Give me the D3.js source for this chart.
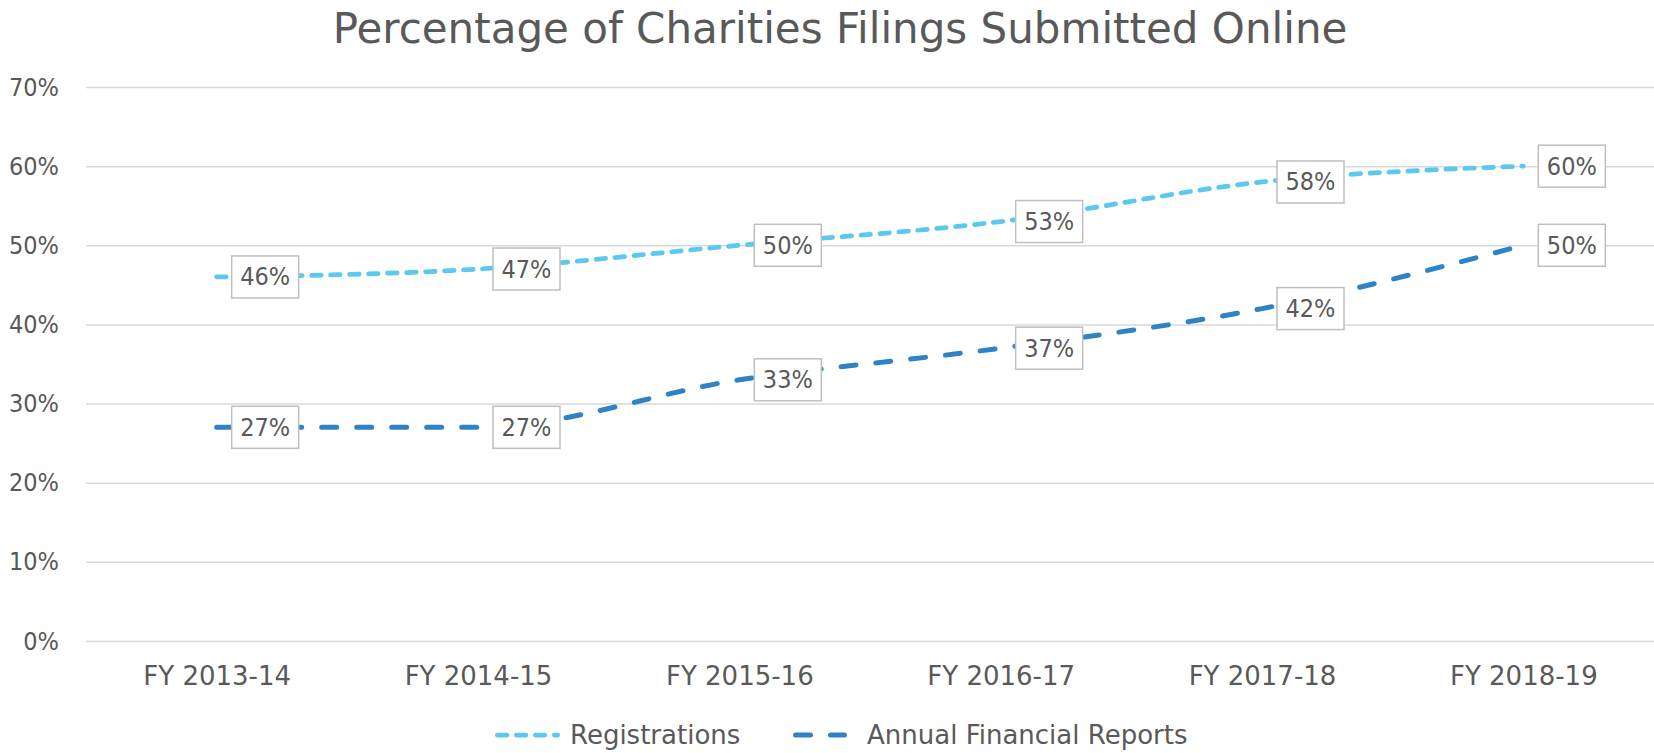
<!DOCTYPE html>
<html>
<head>
<meta charset="utf-8">
<script src="https://cdn.jsdelivr.net/npm/d3@7"></script>
<style>
  html, body { margin: 0; padding: 0; background: #fff; }
  svg { display: block; }
  text { font-family: "DejaVu Sans", sans-serif; fill: #595959; }
  .pct { font-family: "DejaVu Sans Condensed", "DejaVu Sans", sans-serif; }
</style>
</head>
<body>
<svg id="chart" width="1654" height="753"></svg>
<script>
const title = "Percentage of Charities Filings Submitted Online";
const categories = ["FY 2013-14", "FY 2014-15", "FY 2015-16", "FY 2016-17", "FY 2017-18", "FY 2018-19"];
const registrations = [0.46, 0.47, 0.50, 0.53, 0.58, 0.60];
const annualReports = [0.27, 0.27, 0.33, 0.37, 0.42, 0.50];
const seriesNames = ["Registrations", "Annual Financial Reports"];
const yTicks = [0, 0.1, 0.2, 0.3, 0.4, 0.5, 0.6, 0.7];

const W = 1654, H = 753;
const m = { left: 86, right: 0, top: 87, bottom: 112 };
const svg = d3.select("#chart");

const x = d3.scalePoint().domain(categories).range([m.left, W - m.right]).padding(0.5);
const y = d3.scaleLinear().domain([0, 0.7]).range([H - m.bottom, m.top]);
const fmt = d3.format(".0%");

// Title
svg.append("text")
  .attr("x", 840).attr("y", 43)
  .attr("text-anchor", "middle")
  .style("font-size", "42px")
  .text(title);

// Gridlines + y labels
const yAxis = d3.axisLeft(y).tickValues(yTicks).tickFormat(fmt)
  .tickSize(-(W - m.right - m.left)).tickPadding(27);
const gy = svg.append("g").attr("transform", `translate(${m.left},0)`).call(yAxis);
gy.select(".domain").remove();
gy.selectAll(".tick line").attr("stroke", "#d9d9d9").attr("stroke-width", 1.5);
gy.selectAll(".tick text").attr("class", "pct").style("font-size", "25px").attr("fill", "#595959")
  .style("font-family", "DejaVu Sans Condensed, DejaVu Sans, sans-serif");

// X axis labels
const xAxis = d3.axisBottom(x).tickSize(0).tickPadding(26);
const gx = svg.append("g").attr("transform", `translate(0,${H - m.bottom})`).call(xAxis);
gx.select(".domain").remove();
gx.selectAll(".tick text").style("font-size", "26px").attr("fill", "#595959")
  .style("font-family", "DejaVu Sans, sans-serif");

const series = [
  { name: seriesNames[0], values: registrations, color: "#5BC8EF", width: 4.75, dash: "9.5,9.5" },
  { name: seriesNames[1], values: annualReports, color: "#2E83C6", width: 5, dash: "15,20" }
];

const line = d3.line()
  .x((d, i) => x(categories[i]))
  .y(d => y(d))
  .curve(d3.curveMonotoneX);

series.forEach(s => {
  svg.append("path")
    .datum(s.values)
    .attr("d", line)
    .attr("fill", "none")
    .attr("stroke", s.color)
    .attr("stroke-width", s.width)
    .attr("stroke-dasharray", s.dash)
    .attr("stroke-linecap", "round");
});

// Data labels
series.forEach(s => {
  s.values.forEach((v, i) => {
    const g = svg.append("g");
    const t = g.append("text")
      .attr("class", "pct")
      .attr("y", y(v))
      .attr("dominant-baseline", "central")
      .style("font-size", "25px")
      .text(fmt(v));
    const tw = t.node().getComputedTextLength();
    const bx = x(categories[i]) + 15;
    const bw = tw + 17, bh = 42;
    t.attr("x", bx + 8.5);
    g.insert("rect", "text")
      .attr("x", bx).attr("y", y(v) - bh / 2)
      .attr("width", bw).attr("height", bh)
      .attr("fill", "#fff").attr("stroke", "#bfbfbf").attr("stroke-width", 1.5);
  });
});

// Legend
const legendItems = [
  { s: series[0], x0: 495, x1: 560, tx: 570 },
  { s: series[1], x0: 793, x1: 847, tx: 867 }
];
const ly = 735;
legendItems.forEach(li => {
  svg.append("line")
    .attr("x1", li.x0 + li.s.width / 2).attr("x2", li.x1 - li.s.width / 2)
    .attr("y1", ly).attr("y2", ly)
    .attr("stroke", li.s.color).attr("stroke-width", li.s.width)
    .attr("stroke-dasharray", li.s.dash).attr("stroke-linecap", "round");
  svg.append("text")
    .attr("x", li.tx).attr("y", ly)
    .attr("dominant-baseline", "central")
    .style("font-size", "26px")
    .text(li.s.name);
});
</script>
</body>
</html>
